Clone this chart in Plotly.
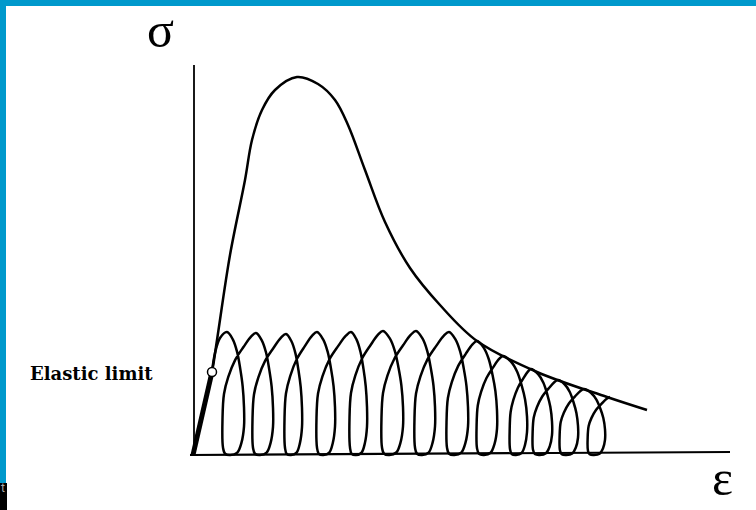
import plotly.graph_objects as go

# ---- Monotonic loading envelope (strain, stress) in drawing units ----
env_strain = [0, 19, 24, 37, 52, 59, 69, 82, 104, 125, 142, 155, 172, 192,
              217, 247, 284, 344, 414, 454]
env_stress = [0, 83, 115, 200, 275, 315, 345, 365, 378, 371, 355, 330, 285, 233,
              187, 150, 114, 83, 58, 45]

# elastic branch and elastic limit
elastic_strain = [0, 19]
elastic_stress = [0, 83]
limit_strain, limit_stress = 19, 83

# ---- Cyclic loading: peak of each cycle, right-hand bulge, foot of reloading ----
peak_strain = [34, 63, 93, 124, 158, 190, 223, 256, 284, 310, 338, 365, 391, 417]
peak_stress = [123, 122, 121, 123, 123, 124, 124, 123, 114, 99, 86, 75, 66, 58]
bulge_strain = [51, 80, 109, 142, 174, 210, 242, 275, 304, 334, 359, 385, 412]
foot_strain = [30, 60, 92, 124, 157, 189, 222, 254, 284, 317, 340, 367, 395]

# loop outline template: (fraction across, fraction of peak height)
UNLOAD_UPPER = [(0.34, 0.94), (0.59, 0.84), (0.78, 0.70), (0.92, 0.56), (1.0, 0.39), (1.0, 0.23)]
UNLOAD_LOWER = [(0.88, 0.10), (0.68, 0.02), (0.35, 0.0), (0.10, 0.01), (0.0, 0.06)]
RELOAD = [(-0.015, 0.30), (0.03, 0.50), (0.16, 0.64), (0.37, 0.78), (0.62, 0.885), (0.85, 0.97)]

lx = [limit_strain, 22, 27, peak_strain[0]]
ly = [limit_stress, 102, 117, peak_stress[0]]
for k in range(len(bulge_strain)):
    xp, hp = peak_strain[k], peak_stress[k]
    xb, xf = bulge_strain[k], foot_strain[k]
    xn, hn = peak_strain[k + 1], peak_stress[k + 1]
    for a, f in UNLOAD_UPPER:
        lx.append(xp + a * (xb - xp)); ly.append(f * hp)
    for b, f in UNLOAD_LOWER:
        lx.append(xf + b * (xb - xf)); ly.append(f * hp)
    for r, f in RELOAD:
        lx.append(xf + r * (xn - xf)); ly.append(f * hn)
    lx.append(xn); ly.append(hn)

fig = go.Figure()

# axes
fig.add_trace(go.Scatter(x=[1, 1], y=[0, 390], mode="lines",
                         line=dict(color="black", width=1.8), hoverinfo="skip"))
fig.add_trace(go.Scatter(x=[-3, 537], y=[0, 3], mode="lines",
                         line=dict(color="black", width=2.2), hoverinfo="skip"))

# envelope
fig.add_trace(go.Scatter(x=env_strain, y=env_stress, mode="lines",
                         line=dict(color="black", width=2.5, shape="spline", smoothing=1.0),
                         hoverinfo="skip"))
# cyclic loops
fig.add_trace(go.Scatter(x=lx, y=ly, mode="lines",
                         line=dict(color="black", width=2.5, shape="spline", smoothing=1.0),
                         hoverinfo="skip"))
# elastic branch
fig.add_trace(go.Scatter(x=elastic_strain, y=elastic_stress, mode="lines",
                         line=dict(color="black", width=5), hoverinfo="skip"))
# elastic limit marker
fig.add_trace(go.Scatter(x=[limit_strain], y=[limit_stress], mode="markers",
                         marker=dict(size=9, color="white", line=dict(color="black", width=1.5)),
                         hoverinfo="skip"))

fig.add_annotation(x=-33, y=425, text="σ", showarrow=False,
                   font=dict(family="Liberation Serif", size=50, color="black"))
fig.add_annotation(x=529, y=-23, text="ε", showarrow=False,
                   font=dict(family="Liberation Serif", size=50, color="black"))
fig.add_annotation(x=-102, y=82, text="<b>Elastic limit</b>", showarrow=False,
                   font=dict(family="DejaVu Serif", size=18, color="black"))

# frame
blue = "#0099CC"
fig.add_shape(type="rect", xref="paper", yref="paper", x0=0, x1=1, y0=1 - 6 / 510, y1=1,
              fillcolor=blue, line=dict(width=0))
fig.add_shape(type="rect", xref="paper", yref="paper", x0=0, x1=6 / 756, y0=1 - 483 / 510, y1=1,
              fillcolor=blue, line=dict(width=0))
fig.add_shape(type="rect", xref="paper", yref="paper", x0=0, x1=7 / 756, y0=0, y1=1 - 483 / 510,
              fillcolor="black", line=dict(width=0))
fig.add_annotation(xref="paper", yref="paper", x=0, y=1 - 496 / 510, text="t",
                   showarrow=False, xanchor="left", borderpad=0,
                   font=dict(family="Roboto", size=12, color="#aaaaaa"))

fig.update_layout(
    width=756, height=510, margin=dict(l=0, r=0, t=0, b=0),
    paper_bgcolor="white", plot_bgcolor="white", showlegend=False,
    xaxis=dict(range=[-193, 563], visible=False, fixedrange=True),
    yaxis=dict(range=[-55, 455], visible=False, fixedrange=True),
)
fig.write_html("out.html")
